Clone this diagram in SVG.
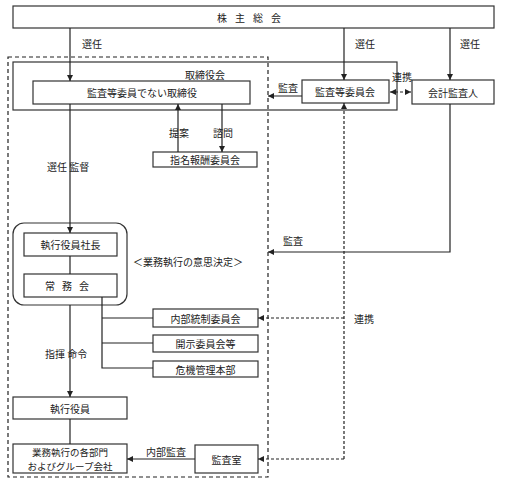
<svg xmlns="http://www.w3.org/2000/svg" width="505" height="484" viewBox="0 0 505 484">
<defs>
<marker id="ah" viewBox="0 0 10 10" refX="10" refY="5" markerWidth="6" markerHeight="6" orient="auto-start-reverse" markerUnits="userSpaceOnUse">
<path d="M0,0 L10,5 L0,10 z" fill="#222"/>
</marker>
<style>
.b{fill:#fff;stroke:#333;stroke-width:1.2}
.t{font-family:"Noto Sans CJK JP","Noto Sans CJK SC",sans-serif;font-size:10px;fill:#222;text-anchor:middle;dominant-baseline:central}
.l{font-family:"Noto Sans CJK JP","Noto Sans CJK SC",sans-serif;font-size:10px;fill:#222;dominant-baseline:central}
.c{fill:none;stroke:#222;stroke-width:1.2}
.d{fill:none;stroke:#222;stroke-width:1.2;stroke-dasharray:3,2}
</style>
</defs>
<rect width="505" height="484" fill="#fff"/>
<g id="frame">
<rect x="8" y="57" width="260" height="420" fill="none" stroke="#222" stroke-width="1.2" stroke-dasharray="4,3"/>
</g>
<g id="board">
<rect x="13" y="62" width="384" height="48" fill="none" stroke="#333" stroke-width="1.2"/>
<text class="t" x="205" y="74">取締役会</text>
</g>
<g id="shareholders">
<rect class="b" x="13" y="6" width="481" height="22"/>
<text class="t" x="253" y="17" letter-spacing="8">株主総会</text>
</g>
<g id="directors">
<rect class="b" x="33" y="81" width="217" height="23"/>
<text class="t" x="142" y="92.5">監査等委員でない取締役</text>
</g>
<g id="auditcommittee">
<rect class="b" x="302" y="80" width="87" height="23"/>
<text class="t" x="345" y="91.5">監査等委員会</text>
</g>
<g id="accountingauditor">
<rect class="b" x="412" y="80" width="82" height="24"/>
<text class="t" x="453" y="92">会計監査人</text>
</g>
<g id="nomination">
<rect class="b" x="153" y="152" width="104" height="15"/>
<text class="t" x="205" y="159.5">指名報酬委員会</text>
</g>
<g id="execgroup">
<rect class="b" x="13" y="223" width="114" height="82" rx="11" ry="11"/>
</g>
<g id="president">
<rect class="b" x="24" y="233" width="93" height="23"/>
<text class="t" x="70.5" y="244.5">執行役員社長</text>
</g>
<g id="managing">
<rect class="b" x="24" y="274" width="93" height="23"/>
<text class="t" x="70.5" y="285.5" letter-spacing="7">常務会</text>
</g>
<g id="internalcontrol">
<rect class="b" x="153" y="309" width="105" height="18"/>
<text class="t" x="205.5" y="318">内部統制委員会</text>
</g>
<g id="disclosure">
<rect class="b" x="153" y="335" width="105" height="17"/>
<text class="t" x="205.5" y="343.5">開示委員会等</text>
</g>
<g id="crisis">
<rect class="b" x="153" y="361" width="105" height="16"/>
<text class="t" x="205.5" y="369">危機管理本部</text>
</g>
<g id="officers">
<rect class="b" x="13" y="397" width="114" height="22"/>
<text class="t" x="70" y="408">執行役員</text>
</g>
<g id="divisions">
<rect class="b" x="13" y="444" width="114" height="29"/>
<text class="t" x="70" y="452" style="font-size:9.5px">業務執行の各部門</text>
<text class="t" x="70" y="465.5" style="font-size:9.5px">およびグループ会社</text>
</g>
<g id="auditoffice">
<rect class="b" x="195" y="445" width="63" height="28"/>
<text class="t" x="226.5" y="459">監査室</text>
</g>
<g id="connectors">
<line class="c" x1="70" y1="28" x2="70" y2="81" marker-end="url(#ah)"/>
<line class="c" x1="344" y1="28" x2="344" y2="80" marker-end="url(#ah)"/>
<line class="c" x1="450" y1="28" x2="450" y2="80" marker-end="url(#ah)"/>
<line class="c" x1="302" y1="96" x2="268" y2="96" marker-end="url(#ah)"/>
<line class="d" x1="390" y1="92" x2="411" y2="92" marker-start="url(#ah)" marker-end="url(#ah)"/>
<line class="c" x1="178" y1="152" x2="178" y2="104" marker-end="url(#ah)"/>
<line class="c" x1="222" y1="104" x2="222" y2="152" marker-end="url(#ah)"/>
<line class="c" x1="70" y1="104" x2="70" y2="233" marker-end="url(#ah)"/>
<line class="c" x1="70" y1="256" x2="70" y2="274"/>
<polyline class="c" points="102,297 102,368 153,368"/>
<line class="c" x1="102" y1="318" x2="153" y2="318"/>
<line class="c" x1="102" y1="343" x2="153" y2="343"/>
<line class="c" x1="70" y1="305" x2="70" y2="397" marker-end="url(#ah)"/>
<line class="c" x1="70" y1="419" x2="70" y2="444"/>
<line class="c" x1="195" y1="459" x2="127" y2="459" marker-end="url(#ah)"/>
<polyline class="c" points="450,104 450,252 268,252" marker-end="url(#ah)"/>
<line class="d" x1="344" y1="459" x2="344" y2="103" marker-end="url(#ah)"/>
<line class="d" x1="344" y1="318" x2="258" y2="318" marker-end="url(#ah)"/>
<line class="d" x1="344" y1="459" x2="258" y2="459" marker-end="url(#ah)"/>
</g>
<g id="labels">
<text class="l" x="82" y="43">選任</text>
<text class="l" x="355" y="43">選任</text>
<text class="l" x="460" y="43">選任</text>
<text class="l" x="278" y="87">監査</text>
<text class="l" x="392" y="76">連携</text>
<text class="l" x="169" y="132">提案</text>
<text class="l" x="213" y="132">諮問</text>
<text class="l" x="47" y="166">選任 監督</text>
<text class="t" x="188" y="261">＜業務執行の意思決定＞</text>
<text class="l" x="283" y="240">監査</text>
<text class="l" x="354" y="318">連携</text>
<text class="l" x="45" y="353">指揮 命令</text>
<text class="l" x="146" y="451">内部監査</text>
</g>
</svg>
